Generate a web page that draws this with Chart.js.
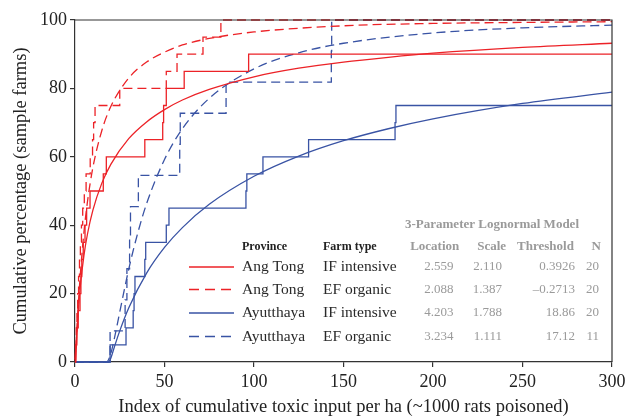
<!DOCTYPE html>
<html><head><meta charset="utf-8">
<script src="https://cdn.jsdelivr.net/npm/chart.js@4/dist/chart.umd.min.js"></script>
<style>html,body{margin:0;padding:0;background:#fff}</style>
</head><body>
<canvas id="c" width="625" height="417"></canvas>
<script>
// ---------- data ----------
const xTitle = 'Index of cumulative toxic input per ha (~1000 rats poisoned)';
const yTitle = 'Cumulative percentage (sample farms)';
const xTickValues = [0, 50, 100, 150, 200, 250, 300];

// Empirical cumulative distributions (sample farms)
const atIfStepX = [0, 0.3, 1.0, 1.8, 2.8, 3.3, 3.8, 4.6, 5.6, 6.5, 8.4, 15.8, 17.5, 39, 49, 49.5, 51, 61, 97, 300];
const atIfStepY = [0, 5, 10, 15, 20, 25, 30, 35, 40, 45, 50, 55, 60, 65, 70, 75, 80, 85, 90, 90];

const atEfStepX = [0, 0.3, 0.7, 1.1, 1.5, 2.0, 2.5, 3.0, 3.6, 4.3, 5.2, 6.2, 8.5, 9.8, 10.4, 11.2, 25, 51, 57, 71.5, 81.5, 300];
const atEfStepY = [0, 5, 10, 15, 20, 25, 30, 35, 40, 45, 50, 55, 60, 65, 70, 75, 80, 85, 90, 95, 100, 100];

const ayIfStepX = [0, 19.6, 28.5, 32.5, 33, 33.5, 39, 39.5, 51, 52.5, 95.5, 96, 105, 130.5, 178.8, 179.3, 300];
const ayIfStepY = [0, 5, 10, 15, 20, 25, 30, 35, 40, 45, 50, 55, 60, 65, 70, 75, 75];

const ayEfStepX = [0, 19.6, 28, 29, 30.5, 31, 35.4, 58.5, 58.8, 84.4, 143.2, 143.4, 300];
const ayEfStepY = [0, 9.09, 18.18, 27.27, 36.36, 45.45, 54.55, 63.64, 72.73, 81.82, 90.91, 100, 100];

// Fitted 3-parameter lognormal curves
const atIfFitX = [0.39, 0.5, 1, 2, 3, 5, 7, 10, 15, 20, 30, 40, 50, 60, 75, 100, 125, 150, 175, 200, 250, 300];
const atIfFitY = [0, 1.2, 7.4, 16.2, 22.4, 31.2, 37.5, 44.4, 52.3, 57.8, 65.3, 70.2, 73.8, 76.6, 79.7, 83.4, 85.9, 87.7, 89.1, 90.3, 92.0, 93.2];

const atEfFitX = [0, 0.5, 1, 2, 3, 5, 7, 10, 15, 20, 30, 40, 50, 60, 75, 100, 150, 200, 250, 300];
const atEfFitY = [0.7, 4.5, 9.1, 18.0, 25.8, 38.0, 47.0, 56.9, 67.7, 74.7, 83.0, 87.7, 90.6, 92.7, 94.6, 96.5, 98.3, 99.0, 99.3, 99.5];

const ayIfFitX = [0, 18.9, 20, 22, 25, 30, 40, 50, 60, 75, 100, 125, 150, 175, 200, 250, 300];
const ayIfFitY = [0, 0, 1.1, 4.4, 9.1, 15.8, 26.0, 33.5, 39.3, 46.1, 54.3, 60.2, 64.7, 68.2, 71.1, 75.6, 78.9];

const ayEfFitX = [0, 17.2, 18, 20, 22, 25, 30, 35, 40, 50, 60, 75, 100, 125, 150, 200, 250, 300];
const ayEfFitY = [0, 0, 0.1, 2.5, 6.9, 14.6, 27.1, 37.6, 46.3, 59.2, 68.2, 77.1, 85.7, 90.4, 93.2, 96.2, 97.7, 98.5];

// Legend / table text
const provinces = ['Ang Tong', 'Ang Tong', 'Ayutthaya', 'Ayutthaya'];
const farmTypes = ['IF intensive', 'EF organic', 'IF intensive', 'EF organic'];
const locations = ['2.559', '2.088', '4.203', '3.234'];
const scalesP = ['2.110', '1.387', '1.788', '1.111'];
const thresholds = ['0.3926', '\u20130.2713', '18.86', '17.12'];
const nFarms = ['20', '20', '20', '11'];

// ---------- styling ----------
const RED = '#ec2227';
const BLUE = '#3953a4';
const DASH = [9, 5];
const SERIF = '"Liberation Serif", "Times New Roman", serif';
const rowColors = [RED, RED, BLUE, BLUE];
const rowDash = [[], [10, 6], [], [10, 6]];

const pts = (xs, ys) => xs.map((x, i) => ({x, y: ys[i]}));

function stepDs(xs, ys, color, dashed) {
  return {data: pts(xs, ys), borderColor: color, borderWidth: 1.3, borderDash: dashed ? DASH : [],
    stepped: 'before', pointRadius: 0, fill: false, clip: 4};
}
function fitDs(xs, ys, color, dashed) {
  return {data: pts(xs, ys), borderColor: color, borderWidth: 1.3, borderDash: dashed ? DASH : [],
    cubicInterpolationMode: 'monotone', pointRadius: 0, fill: false, clip: 4};
}

const overlay = {
  id: 'overlay',
  afterDraw(chart) {
    const {ctx, chartArea: a} = chart;
    ctx.save();
    // frame top and right
    ctx.strokeStyle = '#333';
    ctx.lineWidth = 1.2;
    ctx.beginPath();
    ctx.moveTo(a.left, a.top);
    ctx.lineTo(a.right, a.top);
    ctx.lineTo(a.right, a.bottom);
    ctx.stroke();

    // legend headers
    ctx.textBaseline = 'middle';
    ctx.fillStyle = '#222';
    ctx.font = 'bold 12px ' + SERIF;
    ctx.textAlign = 'left';
    ctx.fillText('Province', 242, 246.5);
    ctx.fillText('Farm type', 323, 246.5);

    const rowY = [267, 289.5, 313, 336.5];
    for (let i = 0; i < 4; i++) {
      const y = rowY[i];
      ctx.strokeStyle = rowColors[i];
      ctx.lineWidth = 1.5;
      ctx.setLineDash(rowDash[i]);
      ctx.beginPath();
      ctx.moveTo(189, y);
      ctx.lineTo(234, y);
      ctx.stroke();
      ctx.setLineDash([]);
      ctx.fillStyle = '#2a2a2a';
      ctx.font = '15.5px ' + SERIF;
      ctx.textAlign = 'left';
      ctx.fillText(provinces[i], 242, y);
      ctx.fillText(farmTypes[i], 323, y);
      ctx.fillStyle = '#9a9a9a';
      ctx.font = '13px ' + SERIF;
      ctx.textAlign = 'right';
      ctx.fillText(locations[i], 453.5, y);
      ctx.fillText(scalesP[i], 502, y);
      ctx.fillText(thresholds[i], 575, y);
      ctx.fillText(nFarms[i], 599, y);
    }
    // table title and headers
    ctx.fillStyle = '#9a9a9a';
    ctx.font = 'bold 13px ' + SERIF;
    ctx.textAlign = 'left';
    ctx.fillText('3-Parameter Lognormal Model', 405, 225);
    ctx.textAlign = 'center';
    ctx.fillText('Location', 434.7, 246.5);
    ctx.fillText('Scale', 491.7, 246.5);
    ctx.fillText('Threshold', 545.5, 246.5);
    ctx.fillText('N', 596.3, 246.5);
    ctx.restore();
  }
};

new Chart(document.getElementById('c'), {
  type: 'line',
  data: {
    datasets: [
      stepDs(atIfStepX, atIfStepY, RED, false),
      fitDs(atIfFitX, atIfFitY, RED, false),
      stepDs(atEfStepX, atEfStepY, RED, true),
      fitDs(atEfFitX, atEfFitY, RED, true),
      stepDs(ayIfStepX, ayIfStepY, BLUE, false),
      fitDs(ayIfFitX, ayIfFitY, BLUE, false),
      stepDs(ayEfStepX, ayEfStepY, BLUE, true),
      fitDs(ayEfFitX, ayEfFitY, BLUE, true)
    ]
  },
  options: {
    responsive: false,
    animation: false,
    devicePixelRatio: 1,
    layout: {padding: {left: 0, right: 13, top: 20, bottom: 0}},
    plugins: {legend: {display: false}, tooltip: {enabled: false}},
    scales: {
      x: {
        type: 'linear', min: 0, max: 300,
        afterBuildTicks: s => { s.ticks = xTickValues.map(v => ({value: v})); },
        ticks: {font: {family: SERIF, size: 18}, color: '#222', padding: 4, maxRotation: 0, autoSkip: false},
        grid: {display: true, drawOnChartArea: false, drawTicks: true, tickLength: 5, color: '#333', lineWidth: 1.2},
        border: {display: true, color: '#333', width: 1.2},
        title: {display: true, text: xTitle, font: {family: SERIF, size: 18.5, lineHeight: 1.1}, color: '#222', padding: {top: 0, bottom: 0}},
        afterFit: s => { s.height = 55; s.paddingLeft = 0; s.paddingRight = 0; }
      },
      y: {
        type: 'linear', min: 0, max: 100,
        ticks: {stepSize: 20, font: {family: SERIF, size: 18}, color: '#222', padding: 3},
        grid: {display: true, drawOnChartArea: false, drawTicks: true, tickLength: 5, color: '#333', lineWidth: 1.2},
        border: {display: true, color: '#333', width: 1.2},
        title: {display: true, text: yTitle, font: {family: SERIF, size: 18.5, lineHeight: 1.2}, color: '#222', padding: {top: 10, bottom: 0}},
        afterFit: s => { s.width = 75; s.paddingTop = 0; s.paddingBottom = 0; }
      }
    }
  },
  plugins: [overlay]
});
</script>
</body></html>
